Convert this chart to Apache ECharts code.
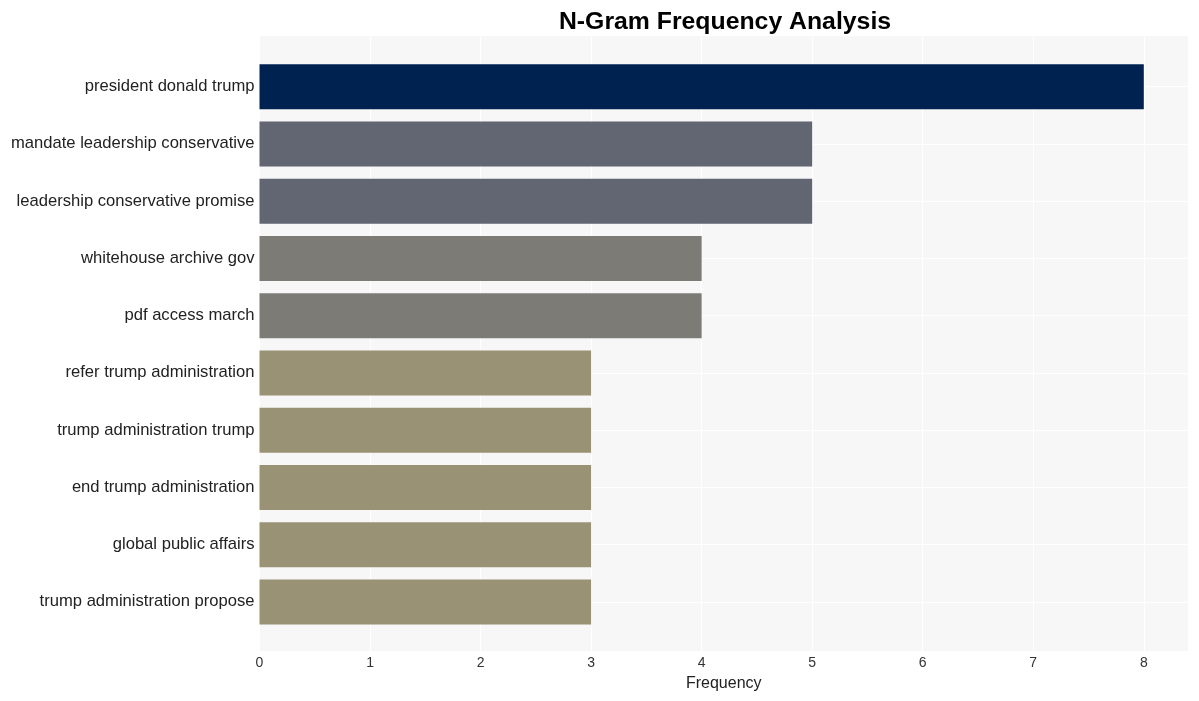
<!DOCTYPE html>
<html>
<head>
<meta charset="utf-8">
<script src="https://cdn.jsdelivr.net/npm/echarts@6/dist/echarts.min.js"></script>
<style>html,body{margin:0;padding:0;background:#fff}#c{width:1199px;height:701px}</style>
</head>
<body>
<div id="c"></div>
<script>
const categories = [
  "president donald trump",
  "mandate leadership conservative",
  "leadership conservative promise",
  "whitehouse archive gov",
  "pdf access march",
  "refer trump administration",
  "trump administration trump",
  "end trump administration",
  "global public affairs",
  "trump administration propose"
];
const values = [8, 5, 5, 4, 4, 3, 3, 3, 3, 3];
const barColors = ["#002250", "#626572", "#626572", "#7d7b76", "#7d7b76", "#9a9275", "#9a9275", "#9a9275", "#9a9275", "#9a9275"];
const xTicks = [0, 1, 2, 3, 4, 5, 6, 7, 8];

const chart = echarts.init(document.getElementById('c'), null, {renderer: 'canvas'});
const font = "'Liberation Sans', Arial, sans-serif";
chart.setOption({
  animation: false,
  backgroundColor: '#ffffff',
  title: {
    text: 'N-Gram Frequency Analysis',
    left: 720, top: 5, textAlign: 'center',
    textStyle: {fontFamily: font, fontSize: 24.8, fontWeight: 'bold', color: '#000'}
  },
  grid: [
    {left: 259.5, right: 11, top: 36, bottom: 50, show: true, backgroundColor: '#f7f7f7', borderWidth: 0, z: 0},
    {left: 259.5, right: 11, top: 58, bottom: 70.5}
  ],
  xAxis: [
    {gridIndex: 0, type: 'value', min: 0, max: 8.4, interval: 1,
     name: 'Frequency', nameLocation: 'middle', nameGap: 25,
     nameTextStyle: {fontFamily: font, fontSize: 16, color: '#222'},
     axisLine: {show: false}, axisTick: {show: false},
     axisLabel: {fontFamily: font, fontSize: 14, color: '#333', margin: 5,
       formatter: v => (xTicks.indexOf(v) >= 0 ? String(v) : '')},
     splitLine: {show: true, lineStyle: {color: '#ffffff', width: 1}}},
    {gridIndex: 1, type: 'value', min: 0, max: 8.4, show: false}
  ],
  yAxis: [
    {gridIndex: 0, type: 'value', show: false, splitLine: {show: false}},
    {gridIndex: 1, type: 'category', data: categories, inverse: true,
     axisLine: {show: false}, axisTick: {show: false},
     axisLabel: {fontFamily: font, fontSize: 16.6, color: '#222', margin: 5},
     splitLine: {show: false}}
  ],
  series: [
    {type: 'line', xAxisIndex: 1, yAxisIndex: 1, data: [], z: 1, silent: true,
     markLine: {z: 1, silent: true, symbol: 'none', label: {show: false},
       lineStyle: {color: '#ffffff', width: 1, type: 'solid'},
       data: categories.map(c => ({yAxis: c}))}},
    {type: 'bar', xAxisIndex: 1, yAxisIndex: 1, z: 3, barWidth: 45,
     data: values.map((v, i) => ({value: v, itemStyle: {color: barColors[i]}}))}
  ]
});
</script>
</body>
</html>
